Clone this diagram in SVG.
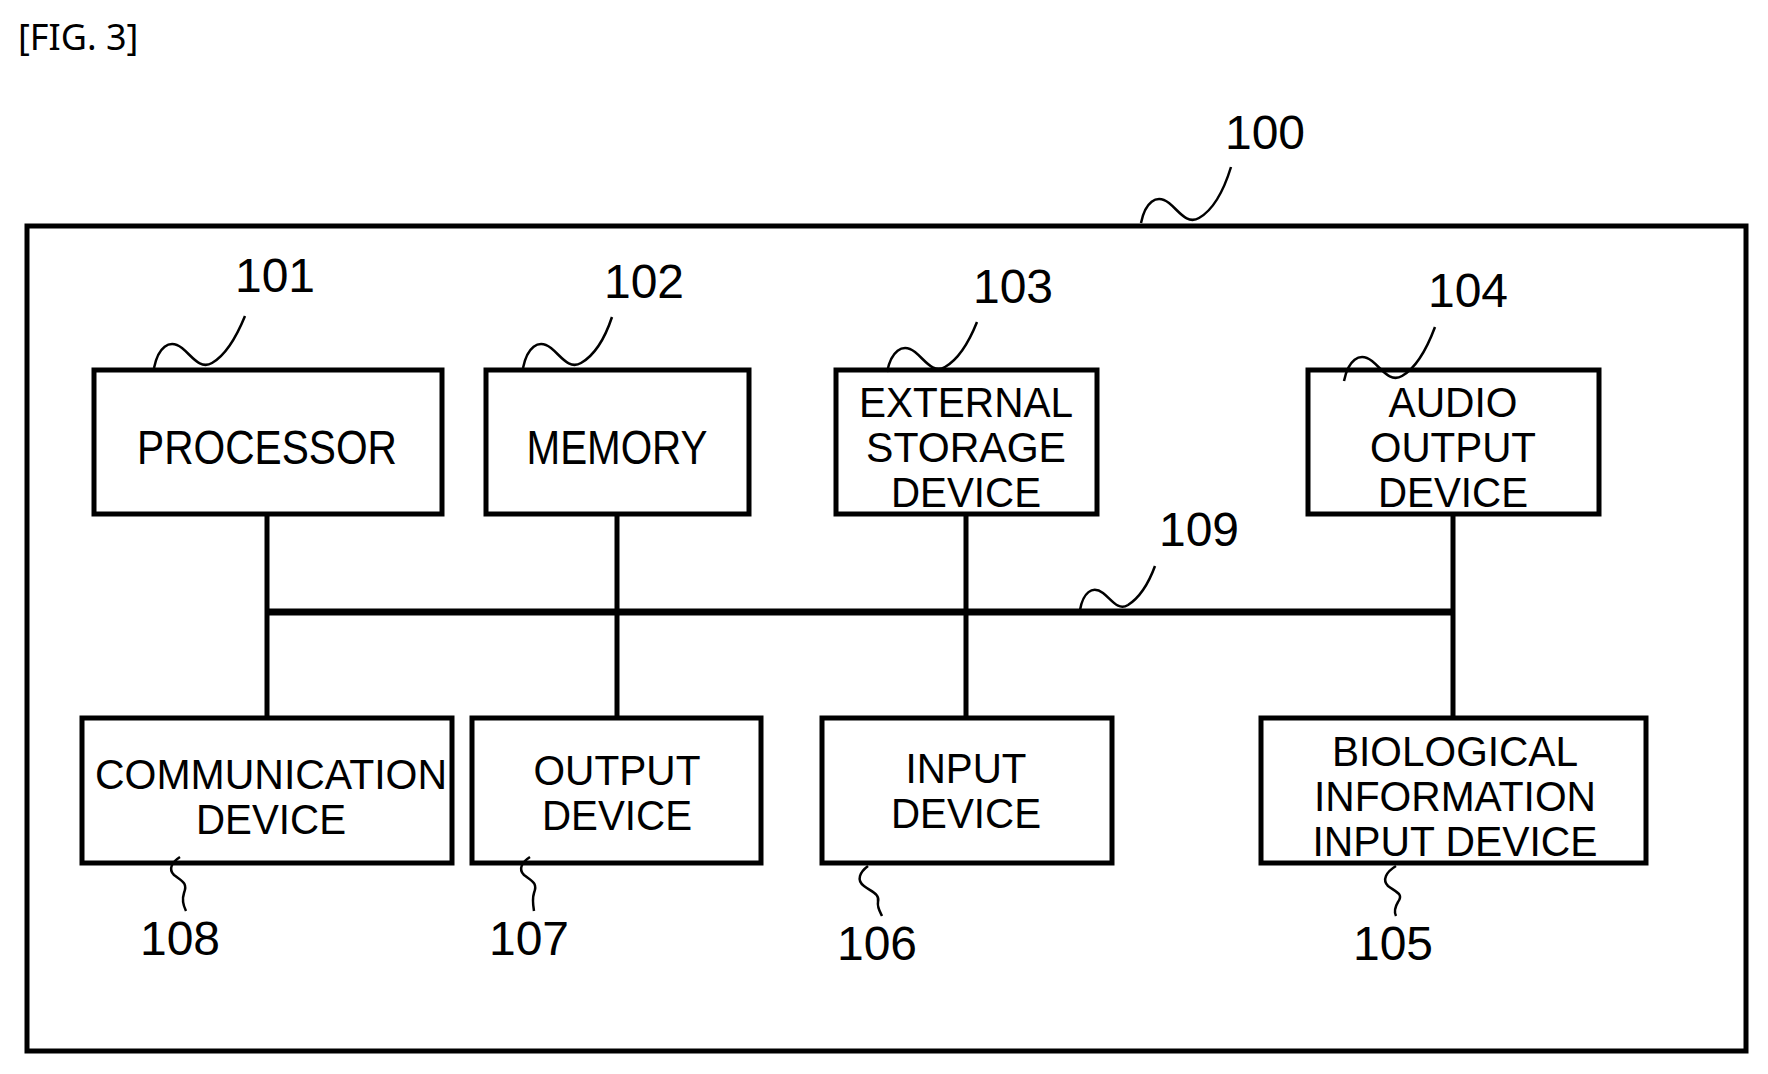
<svg xmlns="http://www.w3.org/2000/svg" width="1768" height="1074" viewBox="0 0 1768 1074">
<style>
.b{fill:#fff;stroke:#000;stroke-width:5}
.t{font-family:"Liberation Sans",Arial,sans-serif;font-size:48px;text-anchor:middle;fill:#000}
.m{font-family:"Liberation Sans",Arial,sans-serif;font-size:42px;text-anchor:middle;fill:#000}
.n{font-family:"Liberation Sans",Arial,sans-serif;font-size:48px;text-anchor:middle;fill:#000}
.s{fill:none;stroke:#000;stroke-width:2.5}
.c{stroke:#000;stroke-width:5;fill:none}
</style>
<rect width="1768" height="1074" fill="#fff"/>
<text x="18" y="50" font-family="Noto Sans,sans-serif" font-size="36">[FIG. 3]</text>
<g id="n100">
<rect class="b" x="27" y="226" width="1719" height="825"/>
<text class="n" x="1265" y="149">100</text>
<path class="s" d="M1141,223 c4,-20 15,-30 28,-20 c10,8 18,22 30,15 c14,-8 24,-25 32,-51"/>
</g>
<g id="connectors">
<line class="c" x1="267" y1="514" x2="267" y2="718"/>
<line class="c" x1="617" y1="514" x2="617" y2="718"/>
<line class="c" x1="966" y1="514" x2="966" y2="718"/>
<line class="c" x1="1453" y1="514" x2="1453" y2="718"/>
<line stroke="#000" stroke-width="7" x1="267" y1="612" x2="1455" y2="612"/>
<text class="n" x="1199" y="546">109</text>
<path class="s" d="M1080,610 c3,-17 12,-25 23,-17 c9,7 15,18 25,12 c11,-7 20,-20 27,-39"/>
</g>
<g id="n101">
<rect class="b" x="94" y="370" width="348" height="144"/>
<text class="t" x="267" y="464" textLength="260" lengthAdjust="spacingAndGlyphs">PROCESSOR</text>
<text class="n" x="275" y="292">101</text>
<path class="s" d="M154,368 c4,-20 15,-30 28,-20 c10,8 18,22 30,15 c14,-8 24,-25 33,-47"/>
</g>
<g id="n102">
<rect class="b" x="486" y="370" width="263" height="144"/>
<text class="t" x="617" y="464" textLength="181" lengthAdjust="spacingAndGlyphs">MEMORY</text>
<text class="n" x="644" y="298">102</text>
<path class="s" d="M523,368 c4,-20 15,-30 28,-20 c10,8 18,22 30,15 c14,-8 24,-25 31,-46"/>
</g>
<g id="n103">
<rect class="b" x="836" y="370" width="261" height="144"/>
<text class="m" x="966" y="417" textLength="214" lengthAdjust="spacingAndGlyphs">EXTERNAL</text>
<text class="m" x="966" y="462" textLength="200" lengthAdjust="spacingAndGlyphs">STORAGE</text>
<text class="m" x="966" y="507" textLength="150" lengthAdjust="spacingAndGlyphs">DEVICE</text>
<text class="n" x="1013" y="303">103</text>
<path class="s" d="M887,372 c4,-20 15,-30 28,-20 c10,8 18,22 30,15 c14,-8 24,-25 32,-45"/>
</g>
<g id="n104">
<rect class="b" x="1308" y="370" width="291" height="144"/>
<text class="m" x="1453" y="417" textLength="129" lengthAdjust="spacingAndGlyphs">AUDIO</text>
<text class="m" x="1453" y="462" textLength="166" lengthAdjust="spacingAndGlyphs">OUTPUT</text>
<text class="m" x="1453" y="507" textLength="150" lengthAdjust="spacingAndGlyphs">DEVICE</text>
<text class="n" x="1468" y="307">104</text>
<path class="s" d="M1344,381 c4,-20 15,-30 28,-20 c10,8 18,22 30,15 c14,-8 24,-25 33,-49"/>
</g>
<g id="n105">
<rect class="b" x="1261" y="718" width="385" height="145"/>
<text class="m" x="1455" y="766" textLength="246" lengthAdjust="spacingAndGlyphs">BIOLOGICAL</text>
<text class="m" x="1455" y="811" textLength="282" lengthAdjust="spacingAndGlyphs">INFORMATION</text>
<text class="m" x="1455" y="856" textLength="285" lengthAdjust="spacingAndGlyphs">INPUT DEVICE</text>
<text class="n" x="1393" y="960">105</text>
<path class="s" d="M1396,866 c-10,6 -14,14 -8,20 c8,6 16,8 10,16 c-3,5 -4,10 -2,14"/>
</g>
<g id="n106">
<rect class="b" x="822" y="718" width="290" height="145"/>
<text class="m" x="966" y="783" textLength="121" lengthAdjust="spacingAndGlyphs">INPUT</text>
<text class="m" x="966" y="828" textLength="150" lengthAdjust="spacingAndGlyphs">DEVICE</text>
<text class="n" x="877" y="960">106</text>
<path class="s" d="M868,866 c-8,6 -12,14 -4,20 c8,6 16,8 14,16 c-1,5 2,10 4,14"/>
</g>
<g id="n107">
<rect class="b" x="472" y="718" width="289" height="145"/>
<text class="m" x="617" y="785" textLength="167" lengthAdjust="spacingAndGlyphs">OUTPUT</text>
<text class="m" x="617" y="830" textLength="150" lengthAdjust="spacingAndGlyphs">DEVICE</text>
<text class="n" x="529" y="955">107</text>
<path class="s" d="M530,857 c-8,5 -12,12 -6,18 c8,6 14,8 10,18 c-2,6 -1,12 0,18"/>
</g>
<g id="n108">
<rect class="b" x="82" y="718" width="370" height="145"/>
<text class="m" x="271" y="789" textLength="352" lengthAdjust="spacingAndGlyphs">COMMUNICATION</text>
<text class="m" x="271" y="834" textLength="150" lengthAdjust="spacingAndGlyphs">DEVICE</text>
<text class="n" x="180" y="955">108</text>
<path class="s" d="M180,857 c-8,5 -12,12 -6,18 c8,6 14,8 10,18 c-2,6 -1,12 2,18"/>
</g>
</svg>
